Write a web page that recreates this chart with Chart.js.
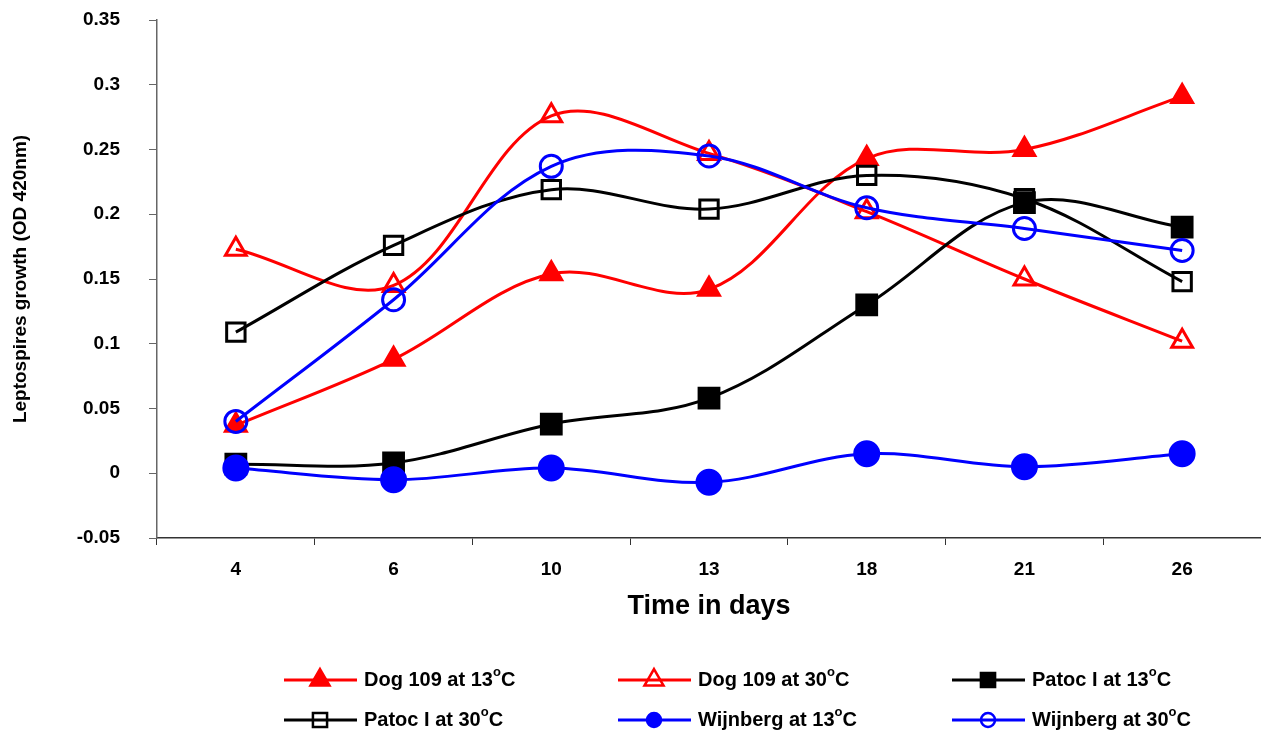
<!DOCTYPE html>
<html>
<head>
<meta charset="utf-8">
<title>Leptospires growth</title>
<script src="https://cdn.jsdelivr.net/npm/chart.js@4/dist/chart.umd.min.js"></script>
<style>
  body { margin: 0; background: #fff; }
  #growth { display: block; }
</style>
</head>
<body>
<canvas id="growth" width="1261" height="731"></canvas>
<script>
/*global Chart*/
const days = ['4', '6', '10', '13', '18', '21', '26'];

const dog13 = [0.037, 0.088, 0.154, 0.142, 0.243, 0.250, 0.291];
const dog30 = [0.173, 0.145, 0.276, 0.247, 0.202, 0.150, 0.102];
const patoc13 = [0.007, 0.008, 0.038, 0.058, 0.130, 0.209, 0.190];
const patoc30 = [0.109, 0.176, 0.219, 0.204, 0.230, 0.212, 0.148];
const wijnberg13 = [0.004, -0.005, 0.004, -0.007, 0.015, 0.005, 0.015];
const wijnberg30 = [0.040, 0.134, 0.237, 0.245, 0.205, 0.189, 0.172];

const seriesNames = ['Dog 109 at 13°C', 'Dog 109 at 30°C', 'Patoc I at 13°C',
  'Patoc I at 30°C', 'Wijnberg at 13°C', 'Wijnberg at 30°C'];

const FONT = '"Liberation Sans", Arial, sans-serif';

function makeSeries(i, values, color, style, radius, filled) {
  return {
    label: seriesNames[i],
    data: values,
    borderColor: color,
    borderWidth: 3,
    tension: 0.35,
    pointStyle: style,
    pointRadius: radius,
    pointBorderWidth: 3,
    pointBorderColor: color,
    pointBackgroundColor: filled ? color : 'rgba(0,0,0,0)',
    legendRadius: style === 'circle' ? 7 : (style === 'rect' ? 10 : 11),
    order: 6 - i
  };
}

// Excel style legend, 3 columns, line with the marker on it
const bottomLegend = {
  id: 'bottomLegend',
  afterDraw(chart) {
    let ctx = chart.ctx;
    chart.data.datasets.forEach((ds, i) => {
      let col = i % 3;
      let row = Math.floor(i / 3);
      let x0 = 284 + col * 334;
      let y = 680 + row * 40;
      ctx.save();
      ctx.strokeStyle = ds.borderColor;
      ctx.lineWidth = 3;
      ctx.beginPath();
      ctx.moveTo(x0, y);
      ctx.lineTo(x0 + 73, y);
      ctx.stroke();
      ctx.fillStyle = ds.pointBackgroundColor;
      ctx.lineWidth = 2.5;
      Chart.helpers.drawPoint(ctx, {
        pointStyle: ds.pointStyle,
        radius: ds.legendRadius,
        rotation: 0,
        borderWidth: 2.5
      }, x0 + 36, y);
      // label: draw the degree as a raised small "o"
      let parts = ds.label.split('°');
      let tx = x0 + 80;
      ctx.fillStyle = '#000';
      ctx.textBaseline = 'middle';
      ctx.font = 'bold 20px ' + FONT;
      ctx.fillText(parts[0], tx, y);
      tx += ctx.measureText(parts[0]).width;
      if(parts.length > 1) {
        ctx.font = 'bold 13px ' + FONT;
        ctx.fillText('o', tx, y - 8);
        tx += ctx.measureText('o').width;
        ctx.font = 'bold 20px ' + FONT;
        ctx.fillText(parts[1], tx, y);
      }
      ctx.restore();
    });
  }
};

function initPage() {
  let datasets = [
    makeSeries(0, dog13, '#ff0000', 'triangle', 12, true),
    makeSeries(1, dog30, '#ff0000', 'triangle', 12, false),
    makeSeries(2, patoc13, '#000000', 'rect', 14, true),
    makeSeries(3, patoc30, '#000000', 'rect', 13, false),
    makeSeries(4, wijnberg13, '#0000ff', 'circle', 12, true),
    makeSeries(5, wijnberg30, '#0000ff', 'circle', 11, false)
  ];
  const config = {
    type: 'line',
    data: {
      labels: days,
      datasets: datasets
    },
    options: {
      responsive: false,
      animation: false,
      layout: {
        autoPadding: false,
        padding: {left: 0, top: 20, right: 0, bottom: 108}
      },
      plugins: {
        legend: {display: false},
        tooltip: {enabled: false}
      },
      scales: {
        x: {
          offset: true,
          afterFit: (scale) => {
            scale.height = 85;
            scale.paddingLeft = 0;
            scale.paddingRight = 0;
          },
          border: {display: true, color: '#333', width: 1.5},
          grid: {
            offset: true,
            drawOnChartArea: false,
            drawTicks: true,
            tickLength: 7,
            color: '#333'
          },
          ticks: {
            color: '#000',
            padding: 13,
            font: {family: FONT, size: 19, weight: 'bold'}
          },
          title: {
            display: true,
            text: 'Time in days',
            color: '#000',
            padding: {top: 0, bottom: 0},
            font: {family: FONT, size: 27, weight: 'bold'}
          }
        },
        y: {
          min: -0.05,
          max: 0.35,
          afterFit: (scale) => {
            scale.width = 157;
            scale.paddingTop = 0;
            scale.paddingBottom = 0;
          },
          border: {display: true, color: '#666', width: 1.5},
          grid: {
            drawOnChartArea: false,
            drawTicks: true,
            tickLength: 8,
            color: '#666'
          },
          ticks: {
            stepSize: 0.05,
            color: '#000',
            padding: 29,
            font: {family: FONT, size: 19, weight: 'bold'},
            callback: (v) => String(Math.round(v * 100) / 100)
          },
          title: {
            display: true,
            text: 'Leptospires growth (OD 420nm)',
            color: '#000',
            padding: {top: 9, bottom: 0},
            font: {family: FONT, size: 19, weight: 'bold'}
          }
        }
      }
    },
    plugins: [bottomLegend]
  };
  new Chart(document.getElementById('growth'), config);
}

window.addEventListener('load', initPage);
</script>
</body>
</html>
